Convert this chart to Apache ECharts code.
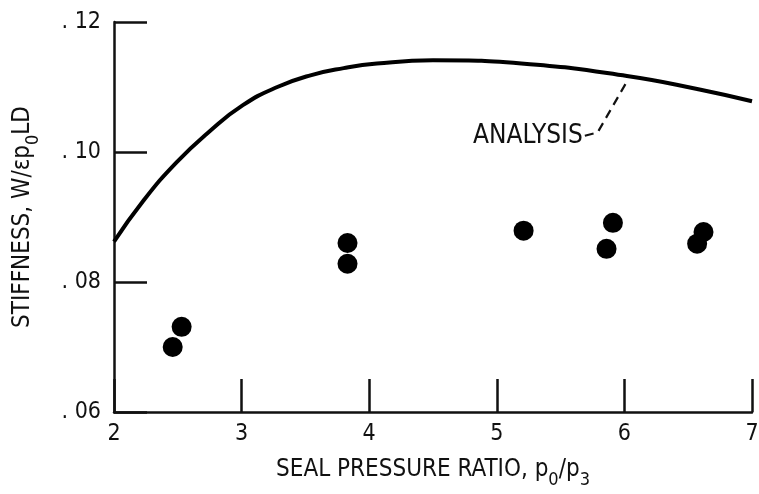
<!DOCTYPE html>
<html>
<head>
<meta charset="utf-8">
<script src="https://cdn.jsdelivr.net/npm/echarts@6/dist/echarts.min.js"></script>
<style>
  html, body { margin: 0; padding: 0; background: #fff; }
  #chart { width: 759px; height: 494px; }
</style>
</head>
<body>
<div id="chart"></div>
<script>
// analysis curve
const analysisX = [2.0, 2.23, 2.49, 2.75, 3.01, 3.28, 3.54, 3.80, 4.06, 4.5, 5.26, 6.02, 6.57, 7.0];
const analysisY = [0.0862, 0.0925, 0.0984, 0.1032, 0.1072, 0.1100, 0.1118, 0.1129, 0.1136, 0.1141, 0.1135, 0.1117, 0.1097, 0.1078];

// measured points
const testX = [2.46, 2.53, 3.83, 3.83, 5.21, 5.86, 5.91, 6.57, 6.62];
const testY = [0.0700, 0.0731, 0.0828, 0.0860, 0.0879, 0.0851, 0.0891, 0.0859, 0.0877];

// leader from the ANALYSIS label to the curve
const leaderX = [5.69, 5.79, 6.03];
const leaderY = [0.1025, 0.1030, 0.1112];

const yTickLabels = { 0.06: '. 06', 0.08: '. 08', 0.10: '. 10', 0.12: '. 12' };

document.addEventListener('DOMContentLoaded', function () {
    const chart = echarts.init(document.getElementById('chart'));
    const font = 'DejaVu Sans Condensed';

    const zip = (xs, ys) => xs.map((x, i) => [x, ys[i]]);
    const subStyle = { fontFamily: font, fontSize: 18, color: '#111', lineHeight: 38, verticalAlign: 'bottom' };

    let option = {
        animation: false,
        textStyle: { fontFamily: font, color: '#111' },
        grid: { left: 114, right: 7, top: 22, bottom: 82, outerBoundsMode: 'none' },
        xAxis: {
            type: 'value',
            min: 2,
            max: 7,
            interval: 1,
            name: 'SEAL PRESSURE RATIO, p{sub|0}/p{sub|3}',
            nameLocation: 'middle',
            nameGap: 39,
            nameTextStyle: {
                fontFamily: font, fontSize: 24, color: '#111',
                rich: { sub: subStyle }
            },
            axisLine: { lineStyle: { color: '#111', width: 2.5 } },
            axisTick: { inside: true, length: 33, lineStyle: { color: '#111', width: 2.5 } },
            axisLabel: { fontFamily: font, fontSize: 23, color: '#111', margin: 11 },
            splitLine: { show: false }
        },
        yAxis: {
            type: 'value',
            min: 0.06,
            max: 0.12,
            interval: 0.02,
            name: 'STIFFNESS, W/εp{sub|0}LD',
            nameLocation: 'middle',
            nameGap: 72,
            nameTextStyle: {
                fontFamily: font, fontSize: 24, color: '#111',
                rich: { sub: subStyle }
            },
            axisLine: { lineStyle: { color: '#111', width: 2.5 } },
            axisTick: { inside: true, length: 33, lineStyle: { color: '#111', width: 2.5 } },
            axisLabel: {
                fontFamily: font, fontSize: 23, color: '#111', margin: 13,
                formatter: v => yTickLabels[v.toFixed(2) * 1] || ''
            },
            splitLine: { show: false }
        },
        series: [
            {
                name: 'Analysis',
                type: 'line',
                smooth: true,
                symbol: 'none',
                data: zip(analysisX, analysisY),
                lineStyle: { color: '#000', width: 4 }
            },
            {
                name: 'Leader',
                type: 'line',
                symbol: 'none',
                data: zip(leaderX, leaderY),
                lineStyle: { color: '#111', width: 2.2, type: [9, 6] },
                markPoint: {
                    symbol: 'circle',
                    symbolSize: 0,
                    data: [{
                        coord: [leaderX[0], leaderY[0]],
                        label: {
                            show: true,
                            formatter: 'ANALYSIS',
                            position: 'left',
                            distance: 2,
                            fontFamily: font,
                            fontSize: 26,
                            color: '#111'
                        }
                    }]
                }
            },
            {
                name: 'Data',
                type: 'scatter',
                symbol: 'circle',
                symbolSize: 20,
                itemStyle: { color: '#000', opacity: 1 },
                data: zip(testX, testY)
            }
        ]
    };

    chart.setOption(option);

    window.addEventListener('resize', () => {
        chart.resize();
    });
});
</script>
</body>
</html>
